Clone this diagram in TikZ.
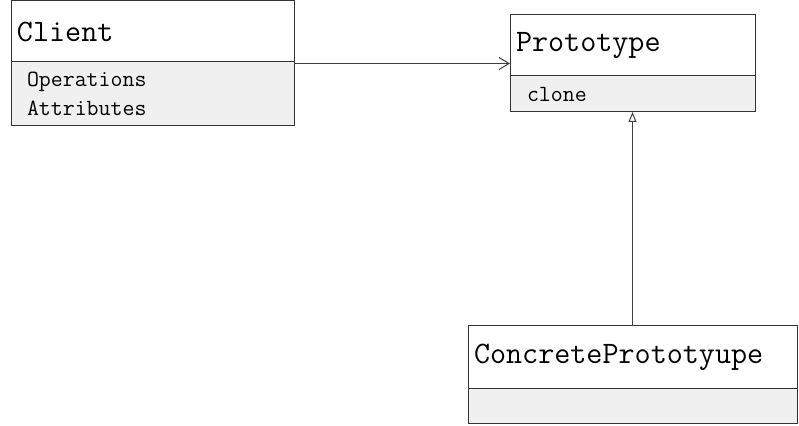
\documentclass[tikz,border=0pt]{standalone}
\usetikzlibrary{arrows.meta,calc}
\begin{document}
\begin{tikzpicture}[x=0.5pt,y=-0.5pt,
  every node/.style={draw=black!80, line width=0.5pt, inner sep=0pt, outer sep=0pt, anchor=north west, align=left},
  classhead/.style={fill=white, inner xsep=3pt, font=\ttfamily\fontsize{15.6}{18}\selectfont},
  classbody/.style={fill=black!6, inner xsep=8pt, font=\ttfamily\fontsize{11.6}{14.5}\selectfont},
  assoc/.style={draw=black!75, line width=0.5pt, -{Straight Barb[length=5pt,width=6pt]}},
  inherit/.style={draw=black!75, line width=0.5pt, -{Triangle[open,length=5pt,width=4pt]}}]
\useasboundingbox (0,0) rectangle (799,426);

\node[classhead, text width=135.5pt, minimum height=30.5pt] (clienthead) at (11,1) {Client};
\node[classbody, text width=125.5pt, minimum height=32pt] (clientbody) at (11,62) {Operations\\Attributes};

\node[classhead, text width=116.5pt, minimum height=30.5pt] (protohead) at (510,15) {Prototype};
\node[classbody, inner xsep=8.5pt, text width=105.5pt, minimum height=18pt] (protobody) at (510,76) {clone};

\node[classhead, text width=158.5pt, minimum height=31.5pt] (concretehead) at (468,326) {ConcretePrototyupe};
\node[classbody, text width=148.5pt, minimum height=17.5pt] (concretebody) at (468,389) {};

\coordinate (assocstart) at ($(clientbody.north east)+(0,1.5)$);
\draw[assoc] (assocstart) -- (assocstart -| protohead.west);
\draw[inherit] (concretehead.north) -- (protobody.south);
\end{tikzpicture}
\end{document}
